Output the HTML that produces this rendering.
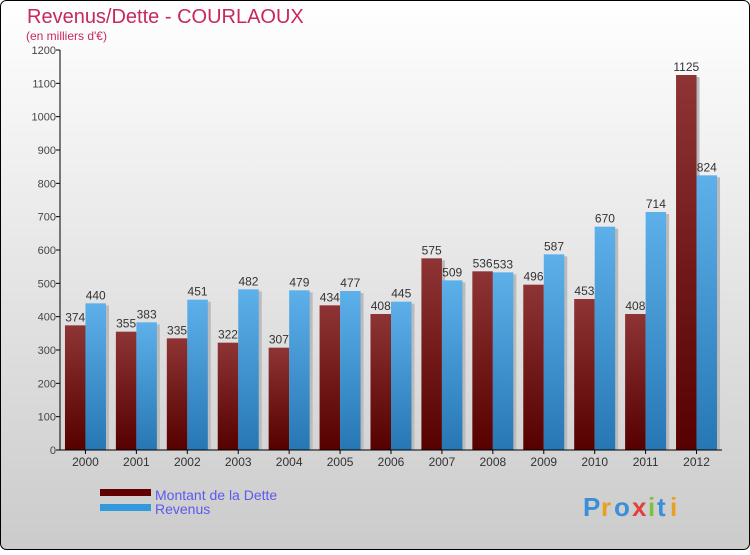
<!DOCTYPE html>
<html><head><meta charset="utf-8"><style>
body{margin:0;width:750px;height:550px;overflow:hidden;font-family:"Liberation Sans",sans-serif}
</style></head><body>
<svg width="750" height="550" xmlns="http://www.w3.org/2000/svg">
<defs>
<linearGradient id="bg" x1="0" y1="0" x2="0" y2="1"><stop offset="0" stop-color="#ffffff"/><stop offset="1" stop-color="#cbcbcb"/></linearGradient>
<linearGradient id="gd" x1="0" y1="0" x2="0" y2="1"><stop offset="0" stop-color="#8e3434"/><stop offset="1" stop-color="#560000"/></linearGradient>
<linearGradient id="gr" x1="0" y1="0" x2="0" y2="1"><stop offset="0" stop-color="#5db0ea"/><stop offset="1" stop-color="#2677b4"/></linearGradient>
</defs>
<rect x="0.5" y="0.5" width="749" height="549" rx="6" fill="url(#bg)" stroke="#000"/>
<text x="27" y="23" font-size="20" fill="#c8285a">Revenus/Dette - COURLAOUX</text>
<text x="26" y="40" font-size="12" fill="#c8285a">(en milliers d'€)</text>
<g id="plot"></g>
<g>
<rect x="100" y="489" width="51" height="7" fill="#600000"/>
<text x="155" y="500" font-size="14" fill="#5a5aee">Montant de la Dette</text>
<rect x="100" y="504" width="51" height="7" fill="#3399dd"/>
<text x="155" y="514" font-size="14" fill="#5a5aee">Revenus</text>
</g>
<g font-size="26" font-weight="bold">
<text x="583" y="516" fill="#3a8fd6">P</text><text x="601" y="516" fill="#e8a020">r</text><text x="614" y="516" fill="#3a8fd6">o</text><text x="632" y="516" fill="#e04040">x</text><text x="648" y="516" fill="#80c040">i</text><text x="657" y="516" fill="#3a8fd6">t</text><text x="670" y="516" fill="#e8a020">i</text>
</g>
</svg>
<script>
const years=["2000","2001","2002","2003","2004","2005","2006","2007","2008","2009","2010","2011","2012"];
const dette=[374,355,335,322,307,434,408,575,536,496,453,408,1125];
const revenus=[440,383,451,482,479,477,445,509,533,587,670,714,824];
const ticks=[0,100,200,300,400,500,600,700,800,900,1000,1100,1200];
const NS="http://www.w3.org/2000/svg";
const g=document.getElementById('plot');
const x0=60,x1=722,yTop=50,yBot=450,vmax=1200;
const bw=(x1-x0)/years.length;
const y=v=>yBot-(v/vmax)*(yBot-yTop);
function mk(t,a,p){const e=document.createElementNS(NS,t);for(const k in a)e.setAttribute(k,a[k]);(p||g).appendChild(e);return e;}
ticks.forEach(t=>{
 const l=mk('line',{x1:x0-4,x2:x0,y1:y(t),y2:y(t),stroke:'#000'});
 
 
 const tx=mk('text',{x:x0-4,y:y(t)+4,'font-size':11,fill:'#444','text-anchor':'end'});
 tx.textContent=t;
 
 
});
years.forEach((yr,i)=>{
 const c=x0+bw*(i+0.5);
 const w=20.5;
 const sd=mk('rect',{x:c-w+3,y:y(dette[i])+2,width:w,height:yBot-y(dette[i])-2,fill:'#bbb'});
 
 
 const sr=mk('rect',{x:c+3,y:y(revenus[i])+2,width:w,height:yBot-y(revenus[i])-2,fill:'#bbb'});
 
 
 const bd=mk('rect',{x:c-w,y:y(dette[i]),width:w,height:yBot-y(dette[i]),fill:'url(#gd)'});
 
 
 const br=mk('rect',{x:c,y:y(revenus[i]),width:w,height:yBot-y(revenus[i]),fill:'url(#gr)'});
 
 
 const ld=mk('text',{x:c-w/2,y:y(dette[i])-4,'font-size':12,fill:'#333','text-anchor':'middle'});
 ld.textContent=dette[i];
 
 
 const lr=mk('text',{x:c+w/2,y:y(revenus[i])-4,'font-size':12,fill:'#333','text-anchor':'middle'});
 lr.textContent=revenus[i];
 
 
 const tk=mk('line',{x1:c,x2:c,y1:yBot,y2:yBot+4,stroke:'#000'});
 
 
 const xl=mk('text',{x:c,y:yBot+16,'font-size':12,fill:'#333','text-anchor':'middle'});
 xl.textContent=yr;
 
 
});
const ya=mk('line',{x1:x0,x2:x0,y1:yTop,y2:yBot,stroke:'#000'});


const xa=mk('line',{x1:x0,x2:x1,y1:yBot,y2:yBot,stroke:'#000'});


</script>
</body></html>
